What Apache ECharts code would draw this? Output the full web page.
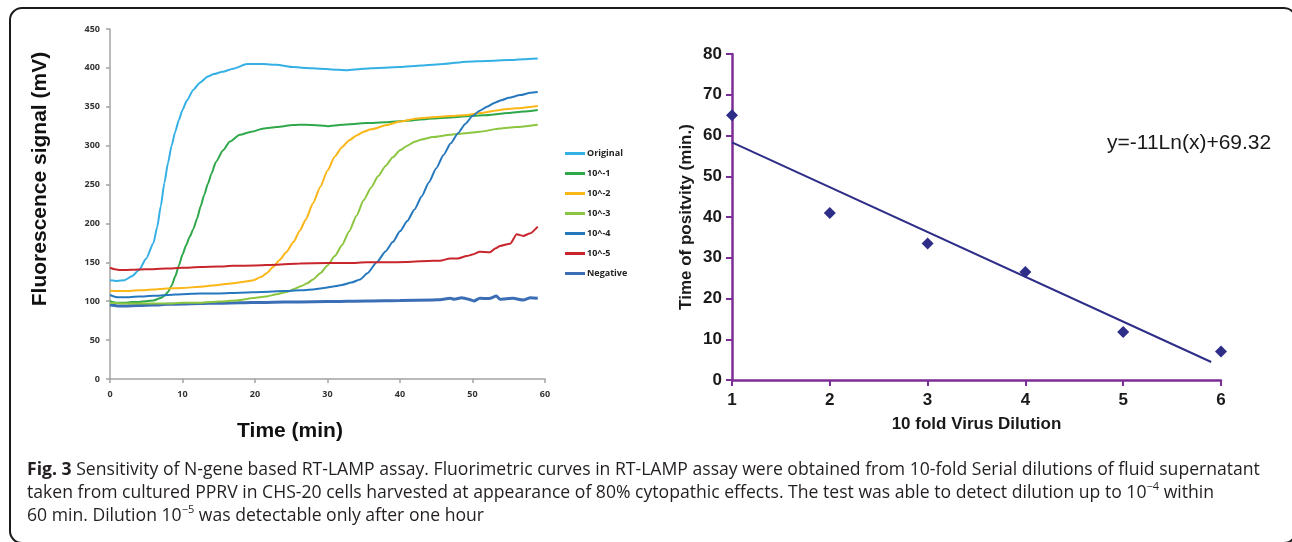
<!DOCTYPE html>
<html>
<head>
<meta charset="utf-8">
<script src="https://cdn.jsdelivr.net/npm/echarts@6/dist/echarts.min.js"></script>
<style>
body{margin:0;background:#fff;}
#wrap{position:relative;width:1292px;height:542px;overflow:hidden;}
#main{width:1292px;height:542px;}
#cap{position:absolute;left:27px;top:457px;font-family:'Open Sans';font-size:17.6px;line-height:23px;color:#231f20;white-space:nowrap;}
#cap sup{font-size:11px;vertical-align:8px;line-height:0;}
</style>
</head>
<body>
<div id="wrap">
<div id="main"></div>
<div id="cap"><b>Fig. 3</b> Sensitivity of N-gene based RT-LAMP assay. Fluorimetric curves in RT-LAMP assay were obtained from 10-fold Serial dilutions of fluid supernatant<br>taken from cultured PPRV in CHS-20 cells harvested at appearance of 80% cytopathic effects. The test was able to detect dilution up to 10<sup>&minus;4</sup> within<br>60 min. Dilution 10<sup>&minus;5</sup> was detectable only after one hour</div>
</div>
<script>
// left panel : fluorescence curves  [time(min), signal(mV)]
var sNames=['Original','10^-1','10^-2','10^-3','10^-4','10^-5','Negative'];
var sColors=['#35b0e5','#2ea84a','#fbb617','#8cc540','#2678be','#c8262c','#3b6eb4'];

var original=[[0,127],[1,126],[2,127],[3,132],[4,140],[5,155],[6,175],[6.5,195],[7,222],[7.5,252],[8,278],[8.5,300],[9,318],[9.5,333],[10,346],[10.6,358],[11.5,372],[12.4,381],[13.5,389],[14.3,392],[15.5,395],[17,399],[18.9,405],[20,405],[21.1,405],[23,404],[25.3,401],[27,400],[29,399],[30.5,398],[32.6,397],[35,399],[37,400],[40,401],[43,403],[46,405],[49.2,408],[52,409],[55,410],[57,411],[59,412]];
var d10m1=[[0,100],[1,98],[2,98],[3,99],[4,99],[5,100],[6,101],[7,104],[7.5,107],[8,112],[8.5,120],[9,132],[9.5,146],[10,160],[10.5,172],[11,183],[11.5,193],[12,206],[12.5,222],[13,237],[13.5,251],[14,264],[14.6,279],[15.6,294],[16.5,305],[17.9,314],[19.5,318],[21.2,322],[23,324],[25.3,326.5],[27,327],[29,326],[30,325],[32,327],[35.4,329],[38,330],[41,332],[44.6,335],[48,337],[51.5,339],[55,342],[57,344],[59,346]];
var d10m2=[[0,113.5],[2,113],[4,114],[6,115],[7.8,116.5],[10,117],[12.4,118.6],[15,121],[17,123],[18.5,125],[19.8,127],[20.8,131],[21.6,136],[22.5,144],[23.4,153],[24.3,163],[25.3,176],[26.2,191],[27,205],[28,226],[29,247],[30,268],[31,286],[32,298],[33,307],[34,313],[35,318],[36,321],[38.2,326.5],[40,331],[42.3,335],[45,337],[47,338],[49.2,339.5],[51,342],[53.8,346],[56,348],[59,351]];
var d10m3=[[0,98],[2,97],[4,97],[6,97],[8,97],[10,98],[12,98],[14,99],[16,100],[17.5,101],[19.8,104],[21.5,106],[23,109],[24.4,112],[25.5,116],[26.5,120],[27.2,123],[28,128],[29,136],[30,146],[31,158],[32,172],[33,190],[34,210],[35,230],[36,246],[37,261],[38,274],[39,285],[40,294],[41,300],[42,305],[43,308],[44.5,311],[46.9,314],[49,316],[51,318],[53.8,322],[56,324],[59,327]];
var d10m4=[[0,108],[1,105],[2,105],[4,106],[6,107],[8,108],[10,109],[12.4,110],[15,110],[18,111],[21,112],[24,113],[26.2,114],[28,115],[29.5,117],[30.8,119],[32,121],[33.3,124],[34.5,128],[35.5,136],[36.8,150],[38,164],[39,176],[40,190],[41,203],[42,218],[43,235],[44,253],[45,271],[46,288],[47,303],[48,316],[49,328],[50,338],[51,345],[52,350],[53,355],[54,358.5],[55,361.5],[56.6,365],[58,368],[59,369]];
var d10m5=[[0,143],[0.7,141],[1.4,140],[3,140.5],[5,141],[7.8,142],[10,143],[12.5,144],[15,144.5],[17,145.5],[20,146],[23,147],[26.2,148.5],[30,149],[33,149],[35.4,150],[38,150],[41,150.5],[44.6,152],[45.5,152],[46.9,155],[48,155],[49.2,158],[50,160],[51,163.5],[52.4,163],[53.2,168],[53.8,171],[55.2,174],[56.1,186],[57,184],[57.9,187],[59,196]];
var negative=[[0,95],[1,94],[2,94],[4,94.5],[6,95],[8,96],[10,96.5],[12.4,97],[15,97.5],[18,98],[21,98.5],[24,99],[26.2,99],[30,99.5],[35.4,100.3],[40,101],[44.6,101.6],[45.5,102],[46.9,103.7],[47.5,102.5],[48.5,104.5],[49.3,103],[50.2,100.3],[51,103.7],[52.3,103.5],[53.3,106.7],[53.8,102.5],[55.6,103.7],[57,101.6],[58,104.5],[59,103.7]];
var sData=[original,d10m1,d10m2,d10m3,d10m4,d10m5,negative];

// right panel : time of positivity vs dilution
var dilution=[1,2,3,4,5,6];
var tPos=[65,41,33.5,26.5,11.8,7];
var trendX=[1,5.9];
var trendY=[58.32,4.42];
var equation='y=-11Ln(x)+69.32';

var myChart=echarts.init(document.getElementById('main'));

var series=[];
for(var i=0;i<sNames.length;i++){
	series.push({
		name:sNames[i],type:'line',xAxisIndex:0,yAxisIndex:0,
		data:sData[i],showSymbol:false,smooth:0.2,smoothMonotone:'x',
		lineStyle:{color:sColors[i],width:(i==6?3:2)},itemStyle:{color:sColors[i]},
		z:(i==6?1:2)
	});
}
var scat=[];
for(var i=0;i<dilution.length;i++){scat.push([dilution[i],tPos[i]]);}
var trend=[];
for(var i=0;i<trendX.length;i++){trend.push([trendX[i],trendY[i]]);}
series.push({type:'line',xAxisIndex:1,yAxisIndex:1,data:trend,showSymbol:false,lineStyle:{color:'#2e2d87',width:2},z:3});
series.push({type:'scatter',xAxisIndex:1,yAxisIndex:1,data:scat,symbol:'diamond',symbolSize:12,itemStyle:{color:'#2e2d87',opacity:1},z:4});

var grayAxis={lineStyle:{color:'#a3a3a3',width:1.5}};
var purpleAxis={lineStyle:{color:'#7b2e96',width:2.5}};
var smallLbl={fontSize:9,fontWeight:'bold',fontFamily:'Open Sans',color:'#333'};
var bigLbl={fontSize:17,fontWeight:'bold',fontFamily:'Liberation Sans',color:'#1a1a1a'};

myChart.setOption({
	backgroundColor:'#fff',
	animation:false,
	grid:[
		{left:110,top:29,width:435,height:350},
		{left:732,top:54,width:489,height:326}
	],
	xAxis:[
		{gridIndex:0,type:'value',min:0,max:60,interval:10,
		 axisLine:grayAxis,axisTick:{length:4,lineStyle:{color:'#a3a3a3',width:1.5}},
		 axisLabel:Object.assign({margin:11},smallLbl),splitLine:{show:false}},
		{gridIndex:1,type:'value',min:1,max:6,interval:1,
		 axisLine:purpleAxis,axisTick:{length:6,lineStyle:{color:'#7b2e96',width:2}},
		 axisLabel:Object.assign({margin:12},bigLbl),splitLine:{show:false},
		 name:'10 fold Virus Dilution',nameLocation:'middle',nameGap:36,
		 nameTextStyle:{fontSize:17,fontWeight:'bold',fontFamily:'Liberation Sans',color:'#1a1a1a'}}
	],
	yAxis:[
		{gridIndex:0,type:'value',min:0,max:450,interval:50,
		 axisLine:Object.assign({show:true},grayAxis),axisTick:{show:true,length:4,lineStyle:{color:'#a3a3a3',width:1.5}},
		 axisLabel:Object.assign({margin:10},smallLbl),splitLine:{show:false}},
		{gridIndex:1,type:'value',min:0,max:80,interval:10,
		 axisLine:Object.assign({show:true},purpleAxis),axisTick:{show:true,length:6,lineStyle:{color:'#7b2e96',width:2}},
		 axisLabel:Object.assign({margin:10},bigLbl),splitLine:{show:false},
		 name:'Time of positvity (min.)',nameLocation:'middle',nameGap:37,
		 nameTextStyle:{fontSize:17,fontWeight:'bold',fontFamily:'Liberation Sans',color:'#1a1a1a'}}
	],
	legend:{
		data:sNames,orient:'vertical',left:565,top:148,
		icon:'rect',itemWidth:20,itemHeight:3,itemGap:9,padding:0,
		textStyle:{fontSize:9,fontWeight:'bold',fontFamily:'Open Sans',color:'#222',lineHeight:11,padding:[0,0,0,-3]}
	},
	graphic:[
		{type:'rect',shape:{x:10,y:8,width:1286,height:535,r:12},style:{fill:null,stroke:'#1a1a1a',lineWidth:2},silent:true},
		{type:'text',x:40,y:179,rotation:Math.PI/2,style:{text:'Fluorescence signal (mV)',fontSize:21,fontWeight:'bold',fontFamily:'Liberation Sans',fill:'#111',align:'center',verticalAlign:'middle'}},
		{type:'text',x:290,y:431,style:{text:'Time (min)',fontSize:21,fontWeight:'bold',fontFamily:'Liberation Sans',fill:'#111',align:'center',verticalAlign:'middle'}},
		{type:'text',x:1107,y:143,style:{text:equation,fontSize:21,fontFamily:'Liberation Sans',fill:'#1a1a1a',verticalAlign:'middle'}}
	],
	series:series
});
</script>
</body>
</html>
